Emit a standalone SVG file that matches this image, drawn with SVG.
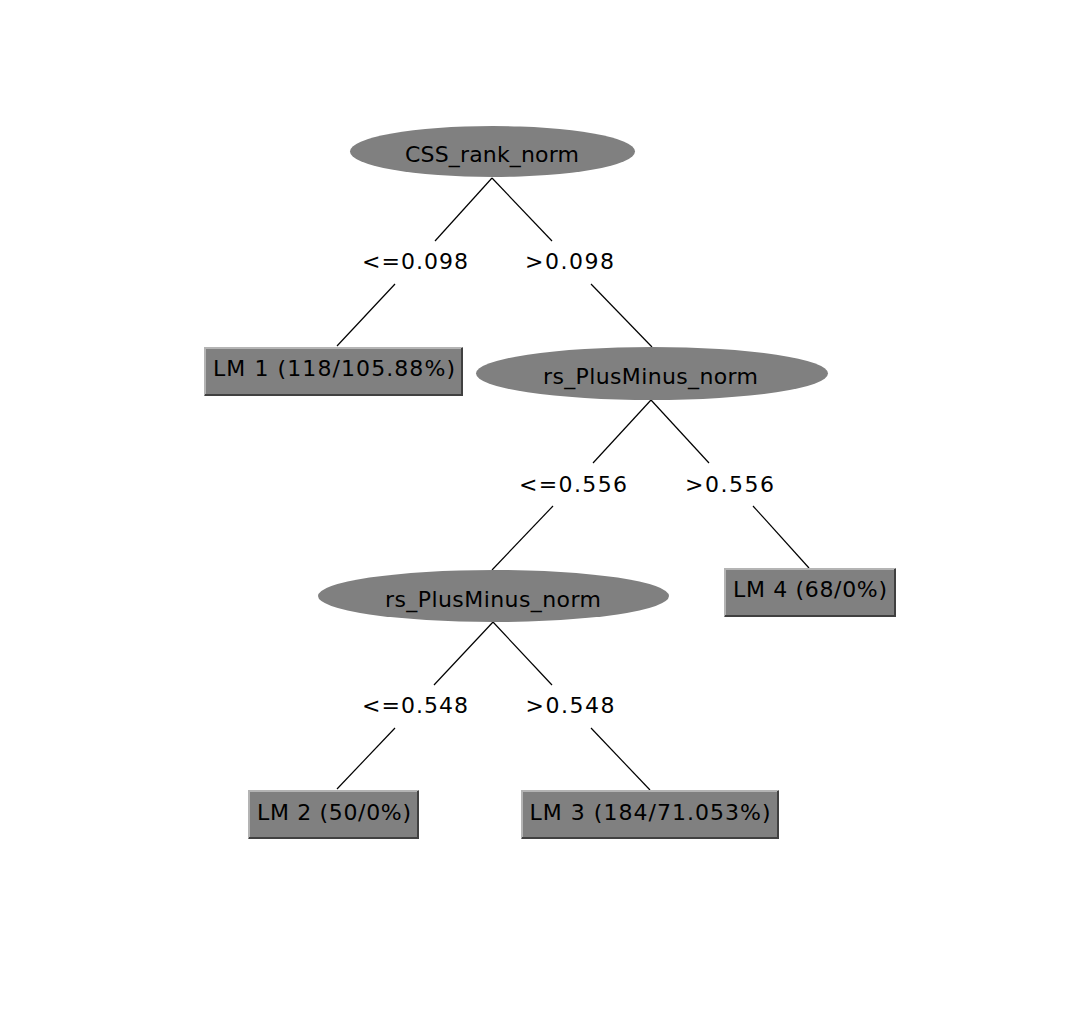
<svg xmlns="http://www.w3.org/2000/svg" width="1066" height="1010" viewBox="0 0 1066 1010">
<style>
text{font-family:"DejaVu Sans","Liberation Sans",sans-serif;font-size:22px;fill:#000;text-anchor:middle}
.ell{fill:#808080}
.box{fill:#808080}
.hi{fill:none;stroke:#b4b4b4;stroke-width:2}
.lo{fill:none;stroke:#404040;stroke-width:2}
.edge{stroke:#000;stroke-width:1.2;fill:none}
</style>
<rect width="1066" height="1010" fill="#fff"/>
<g id="connectors">
<line class="edge" x1="492" y1="178" x2="435" y2="241"/>
<line class="edge" x1="492" y1="178" x2="552" y2="241"/>
<line class="edge" x1="395" y1="284" x2="337" y2="346"/>
<line class="edge" x1="591" y1="284" x2="652" y2="347"/>
<line class="edge" x1="651" y1="400" x2="593" y2="463"/>
<line class="edge" x1="651" y1="400" x2="709" y2="463"/>
<line class="edge" x1="553" y1="506" x2="492" y2="570"/>
<line class="edge" x1="753" y1="506" x2="809" y2="568"/>
<line class="edge" x1="493" y1="622" x2="434" y2="685"/>
<line class="edge" x1="493" y1="622" x2="552" y2="685"/>
<line class="edge" x1="395" y1="728" x2="337" y2="789"/>
<line class="edge" x1="591" y1="728" x2="650" y2="790"/>
<text x="415" y="269" textLength="106" lengthAdjust="spacing">&lt;=0.098</text>
<text x="569.5" y="269" textLength="89" lengthAdjust="spacing">&gt;0.098</text>
<text x="573" y="491.5" textLength="108" lengthAdjust="spacing">&lt;=0.556</text>
<text x="729.5" y="491.5" textLength="89" lengthAdjust="spacing">&gt;0.556</text>
<text x="415" y="713" textLength="106" lengthAdjust="spacing">&lt;=0.548</text>
<text x="570" y="713" textLength="89" lengthAdjust="spacing">&gt;0.548</text>
</g>
<g id="n0">
<ellipse class="ell" cx="492.5" cy="151.5" rx="142.5" ry="25.5"/>
<text x="492" y="162" textLength="174" lengthAdjust="spacing">CSS_rank_norm</text>
</g>
<g id="n1">
<rect class="box" x="204" y="347" width="259" height="49"/>
<polyline class="hi" points="205,395 205,348 462,348"/>
<polyline class="lo" points="205,395 462,395 462,348"/>
<text x="334" y="376" textLength="242" lengthAdjust="spacing">LM 1 (118/105.88%)</text>
</g>
<g id="n2">
<ellipse class="ell" cx="652" cy="373.5" rx="176" ry="26.5"/>
<text x="650.5" y="384" textLength="215" lengthAdjust="spacing">rs_PlusMinus_norm</text>
</g>
<g id="n3">
<ellipse class="ell" cx="493.5" cy="596" rx="175.5" ry="26"/>
<text x="493" y="606.5" textLength="216" lengthAdjust="spacing">rs_PlusMinus_norm</text>
</g>
<g id="n4">
<rect class="box" x="724" y="568" width="172" height="49"/>
<polyline class="hi" points="725,616 725,569 895,569"/>
<polyline class="lo" points="725,616 895,616 895,569"/>
<text x="810" y="597" textLength="154" lengthAdjust="spacing">LM 4 (68/0%)</text>
</g>
<g id="n5">
<rect class="box" x="248" y="790" width="171" height="49"/>
<polyline class="hi" points="249,838 249,791 418,791"/>
<polyline class="lo" points="249,838 418,838 418,791"/>
<text x="334" y="820" textLength="154" lengthAdjust="spacing">LM 2 (50/0%)</text>
</g>
<g id="n6">
<rect class="box" x="521" y="790" width="258" height="49"/>
<polyline class="hi" points="522,838 522,791 778,791"/>
<polyline class="lo" points="522,838 778,838 778,791"/>
<text x="650" y="820" textLength="241" lengthAdjust="spacing">LM 3 (184/71.053%)</text>
</g>
</svg>
